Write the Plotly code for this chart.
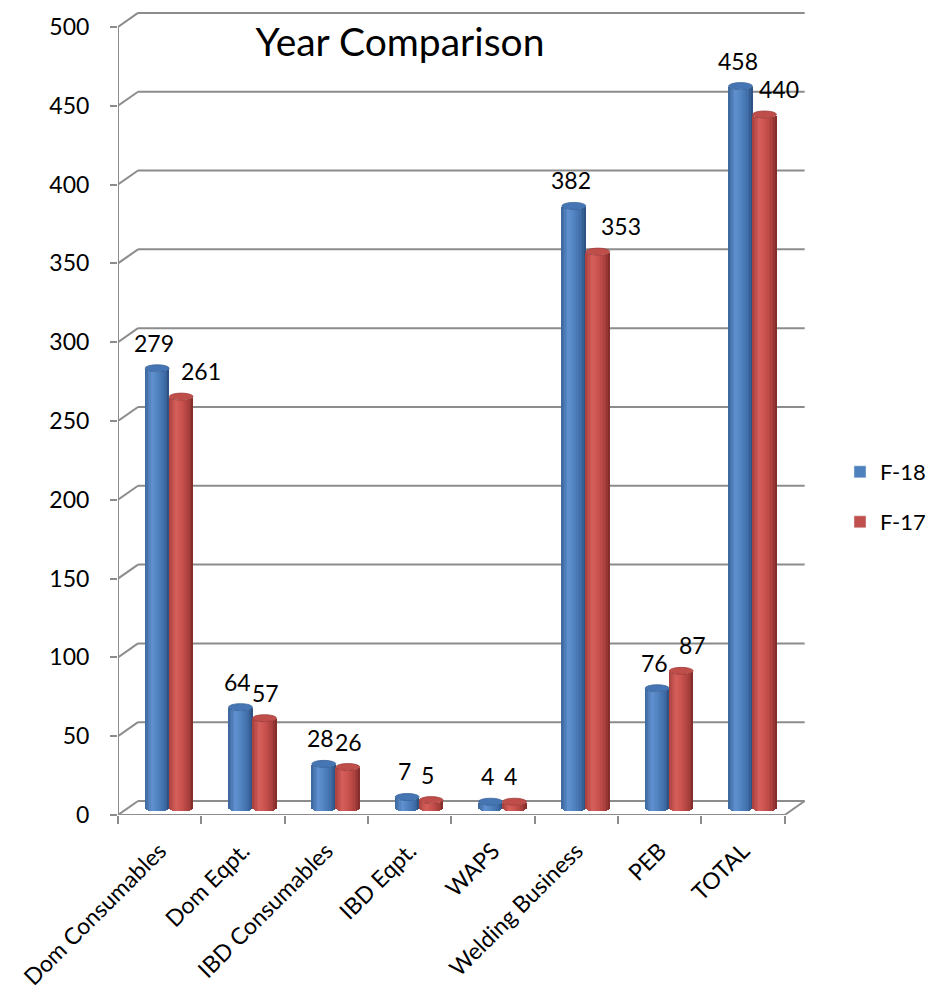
import math
import plotly.graph_objects as go

# ---- data ----
categories = ["Dom Consumables", "Dom Eqpt.", "IBD Consumables", "IBD Eqpt.",
              "WAPS", "Welding Business", "PEB", "TOTAL"]
f18 = [279, 64, 28, 7, 4, 382, 76, 458]
f17 = [261, 57, 26, 5, 4, 353, 87, 440]
y_ticks = list(range(0, 501, 50))

# ---- page / plot geometry (pixels) ----
W, H = 933, 994
ML, MR, MT, MB = 118, 125, 8, 179
X_RANGE = [-0.5, 7.78]
Y_RANGE = [0, 512]
PX_X = (W - ML - MR) / (X_RANGE[1] - X_RANGE[0])
PX_Y = (H - MT - MB) / (Y_RANGE[1] - Y_RANGE[0])

# depth of the 3-D box and of the cylinders, converted to axis units
WALL_DX, WALL_DY = 20 / PX_X, 14 / PX_Y
BAR_SHIFT = 7 / PX_Y          # cylinders stand half way into the box
CAP_H = 3.5 / PX_Y            # half height of the elliptical caps
BAR_W = 24 / PX_X
SERIES_LEFT = {"F-18": -14.5 / PX_X, "F-17": 9.5 / PX_X}

GRID = "#8c8c8c"
FONT = "Lato"
BLUE, RED = "#4f81bd", "#c0504d"

SHADES = {
    "F-18": [(0.0, (58, 101, 153)), (0.3, (96, 145, 208)), (0.55, (80, 130, 192)),
             (0.85, (61, 106, 163)), (1.0, (43, 77, 124))],
    "F-17": [(0.0, (168, 64, 61)), (0.3, (214, 95, 91)), (0.55, (200, 81, 78)),
             (0.85, (165, 62, 59)), (1.0, (124, 42, 40))],
}
CAPS = {"F-18": ("#4675b3", "#3a6399"), "F-17": ("#bf4e4b", "#9e3d3a")}
LABEL_DX = {"F-18": [-3] * 8, "F-17": [20, 1, 1, -4, -4, 23, 11, 14]}


def shade(stops, u):
    for (u0, c0), (u1, c1) in zip(stops, stops[1:]):
        if u <= u1:
            t = (u - u0) / (u1 - u0)
            rgb = [round(a + (b - a) * t) for a, b in zip(c0, c1)]
            return "rgb({},{},{})".format(*rgb)
    return "rgb({},{},{})".format(*stops[-1][1])


fig = go.Figure()
idx = list(range(len(categories)))
N_SLICES = 16
sw = BAR_W / N_SLICES

shapes = []
annotations = []

for name, values in (("F-18", f18), ("F-17", f17)):
    left = SERIES_LEFT[name]
    # cylinder body: vertical slices shaded across the width, with a rounded bottom
    for k in range(N_SLICES):
        u = (k + 0.5) / N_SLICES
        e = CAP_H * math.sqrt(max(0.0, 1 - (2 * u - 1) ** 2))
        fig.add_trace(go.Bar(
            x=idx, y=values, base=[BAR_SHIFT - e] * len(values),
            width=sw * 1.2, offset=left + k * sw,
            marker=dict(color=shade(SHADES[name], u), line=dict(width=0)),
            showlegend=False, name=name,
            hovertemplate="%{customdata}<br>" + name + ": %{y}<extra></extra>",
            customdata=categories,
        ))
    cap_fill, cap_line = CAPS[name]
    for i, v in enumerate(values):
        cx = i + left + BAR_W / 2
        top = v + BAR_SHIFT
        shapes.append(dict(type="circle", xref="x", yref="y", layer="above",
                           x0=cx - BAR_W / 2, x1=cx + BAR_W / 2,
                           y0=top - CAP_H, y1=top + CAP_H,
                           fillcolor=cap_fill, line=dict(color=cap_line, width=0.8)))
        annotations.append(dict(x=cx, y=top + CAP_H, text=str(v), showarrow=False,
                                xanchor="center", yanchor="middle",
                                xshift=LABEL_DX[name][i], yshift=22,
                                font=dict(family=FONT, size=23, color="black")))

# legend entries
fig.add_trace(go.Bar(x=[None], y=[None], name="F-18", marker_color=BLUE, legend="legend"))
fig.add_trace(go.Bar(x=[None], y=[None], name="F-17", marker_color=RED, legend="legend2"))

# back wall gridlines with their diagonal returns to the value axis
x_left, x_right = -0.5, len(categories) - 0.5
for v in y_ticks:
    shapes.append(dict(type="line", xref="x", yref="y", layer="below",
                       x0=x_left + WALL_DX, x1=x_right + WALL_DX,
                       y0=v + WALL_DY, y1=v + WALL_DY,
                       line=dict(color=GRID, width=2)))
    shapes.append(dict(type="line", xref="x", yref="y", layer="below",
                       x0=x_left, x1=x_left + WALL_DX, y0=v, y1=v + WALL_DY,
                       line=dict(color=GRID, width=2)))
# floor front edge, right edge and value axis line
shapes.append(dict(type="line", xref="x", yref="y", layer="below",
                   x0=x_left, x1=x_right, y0=0, y1=0, line=dict(color=GRID, width=2)))
shapes.append(dict(type="line", xref="x", yref="y", layer="below",
                   x0=x_right, x1=x_right + WALL_DX, y0=0, y1=WALL_DY,
                   line=dict(color=GRID, width=2)))
shapes.append(dict(type="line", xref="x", yref="y", layer="below",
                   x0=x_left, x1=x_left, y0=0, y1=y_ticks[-1],
                   line=dict(color=GRID, width=2)))

LEG_X = (840 - ML) / (W - ML - MR)

fig.update_layout(
    width=W, height=H,
    margin=dict(l=ML, r=MR, t=MT, b=MB, pad=0, autoexpand=False),
    paper_bgcolor="white", plot_bgcolor="white",
    barmode="overlay", bargap=0,
    font=dict(family=FONT, size=23, color="black"),
    title=dict(text="Year Comparison", x=400 / W, xanchor="center",
               y=1 - 42 / H, yanchor="middle", yref="container",
               font=dict(family=FONT, size=39, color="black")),
    shapes=shapes, annotations=annotations,
    xaxis=dict(range=X_RANGE, tickmode="array", tickvals=idx, ticktext=categories,
               tickangle=-45, ticks="", showgrid=False, zeroline=False, showline=False,
               tickfont=dict(family=FONT, size=23, color="black"),
               ticklabelstandoff=17,
               minor=dict(tickmode="linear", tick0=-0.5, dtick=1, ticks="outside",
                          ticklen=8, tickwidth=2, tickcolor=GRID, showgrid=False)),
    yaxis=dict(range=Y_RANGE, tickmode="array", tickvals=y_ticks, ticks="outside",
               ticklen=7, tickwidth=2, tickcolor=GRID, showgrid=False, zeroline=False,
               showline=False, ticklabelstandoff=16,
               tickfont=dict(family=FONT, size=23, color="black")),
    legend=dict(x=LEG_X, xanchor="left",
                y=(815 - 472) / (H - MT - MB), yanchor="middle",
                font=dict(family=FONT, size=22), bgcolor="rgba(0,0,0,0)"),
    legend2=dict(x=LEG_X, xanchor="left",
                 y=(815 - 522) / (H - MT - MB), yanchor="middle",
                 font=dict(family=FONT, size=22), bgcolor="rgba(0,0,0,0)"),
)

fig.write_html("out.html")
